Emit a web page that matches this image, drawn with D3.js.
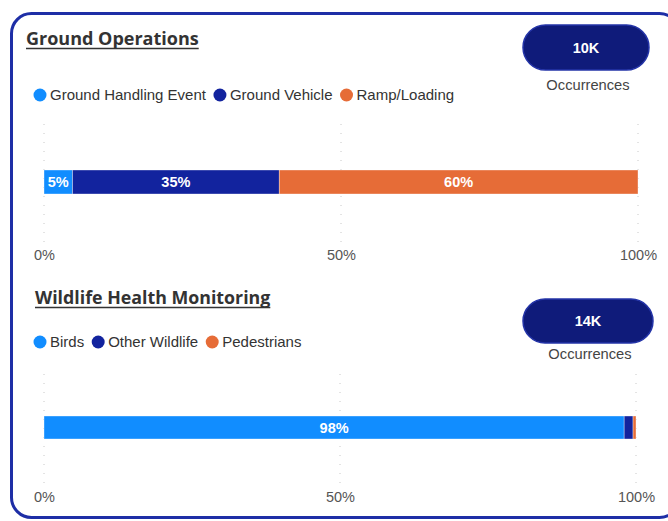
<!DOCTYPE html>
<html>
<head>
<meta charset="utf-8">
<script src="https://cdn.jsdelivr.net/npm/d3@7"></script>
<style>
  body { margin: 0; background: #fff; }
  svg { display: block; }
</style>
</head>
<body>
<svg id="chart" width="668" height="521"></svg>
<script>
// values (percent of occurrences)
const groundCategories = ["Ground Handling Event", "Ground Vehicle", "Ramp/Loading"];
const groundValues = [4.8, 34.8, 60.4];
const wildlifeCategories = ["Birds", "Other Wildlife", "Pedestrians"];
const wildlifeValues = [98.0, 1.5, 0.5];
const panelTitles = ["Ground Operations", "Wildlife Health Monitoring"];
const occurrenceTotals = ["10K", "14K"];
const tickValues = [0, 50, 100];
const colors = ["#118DFF", "#12239E", "#E66C37"];

const svg = d3.select("#chart");

// card frame
svg.append("rect")
  .attr("x", 11.5).attr("y", 13.5)
  .attr("width", 668).attr("height", 504)
  .attr("rx", 20).attr("ry", 20)
  .attr("fill", "#fff")
  .attr("stroke", "#1e2ea6")
  .attr("stroke-width", 3);

function drawPanel(opts) {
  const g = svg.append("g");

  // title
  const title = g.append("text")
    .attr("x", opts.titleX).attr("y", opts.titleY)
    .attr("font-family", "Open Sans, sans-serif")
    .attr("font-weight", 700)
    .attr("font-size", opts.titleSize)
    .attr("fill", "#333")
    .text(opts.title);
  const tw = title.node().getComputedTextLength();
  g.append("line")
    .attr("x1", opts.titleX).attr("x2", opts.titleX + tw)
    .attr("y1", opts.titleY + 3.5).attr("y2", opts.titleY + 3.5)
    .attr("stroke", "#333").attr("stroke-width", 1.4);

  // legend
  let lx = 40;
  opts.categories.forEach((c, i) => {
    g.append("circle")
      .attr("cx", lx).attr("cy", opts.legendY)
      .attr("r", 6.5)
      .attr("fill", colors[i]);
    const t = g.append("text")
      .attr("x", lx + 10).attr("y", opts.legendY + 5)
      .attr("font-family", "Liberation Sans, Arial, sans-serif")
      .attr("font-size", "15px")
      .attr("fill", "#333")
      .text(c);
    lx += 10 + t.node().getComputedTextLength() + 14;
  });

  // total pill
  const pill = g.append("g").attr("transform", `translate(${opts.pillX},${opts.pillY})`);
  pill.append("rect")
    .attr("width", opts.pillW).attr("height", opts.pillH)
    .attr("rx", opts.pillH / 2)
    .attr("fill", "#0f1b7a")
    .attr("stroke", "#2434a8")
    .attr("stroke-width", 1.5);
  pill.append("text")
    .attr("x", opts.pillW / 2).attr("y", opts.pillH / 2 + 5)
    .attr("text-anchor", "middle")
    .attr("font-family", "Liberation Sans, Arial, sans-serif")
    .attr("font-weight", 700)
    .attr("font-size", "14.5px")
    .attr("fill", "#fff")
    .text(opts.total);
  g.append("text")
    .attr("x", opts.pillX + opts.pillW / 2 + 2).attr("y", opts.pillY + opts.pillH + opts.occGap)
    .attr("text-anchor", "middle")
    .attr("font-family", "Liberation Sans, Arial, sans-serif")
    .attr("font-size", "14.7px")
    .attr("fill", "#444")
    .text("Occurrences");

  // scale + gridlines
  const x = d3.scaleLinear().domain([0, 100]).range([44, opts.xEnd]);

  g.selectAll(".grid")
    .data(tickValues)
    .join("line")
    .attr("x1", d => x(d)).attr("x2", d => x(d))
    .attr("y1", opts.gridTop).attr("y2", opts.gridBottom)
    .attr("stroke", "#c8c8c8")
    .attr("stroke-width", 1)
    .attr("stroke-dasharray", "1,8");

  // stacked bar
  let acc = 0;
  const segs = opts.values.map((v, i) => {
    const s = { x0: acc, x1: acc + v, v, i };
    acc += v;
    return s;
  });

  g.selectAll(".seg")
    .data(segs)
    .join("rect")
    .attr("x", d => x(d.x0))
    .attr("width", d => x(d.x1) - x(d.x0))
    .attr("y", opts.barY).attr("height", opts.barH)
    .attr("fill", d => colors[d.i])
    .attr("stroke", "#fff")
    .attr("stroke-opacity", 0.6)
    .attr("stroke-width", 0.6);

  g.selectAll(".lbl")
    .data(segs.filter(d => x(d.x1) - x(d.x0) > 24))
    .join("text")
    .attr("x", d => (x(d.x0) + x(d.x1)) / 2)
    .attr("y", opts.barY + opts.barH / 2 + 5)
    .attr("text-anchor", "middle")
    .attr("font-family", "Liberation Sans, Arial, sans-serif")
    .attr("font-weight", 700)
    .attr("font-size", "14.5px")
    .attr("fill", "#fff")
    .text(d => Math.round(d.v) + "%");

  // axis
  const axis = g.append("g")
    .attr("transform", `translate(0,${opts.axisY})`)
    .call(d3.axisBottom(x).tickValues(tickValues).tickFormat(d => d + "%").tickSize(0));
  axis.select(".domain").remove();
  axis.selectAll("text")
    .attr("font-family", "Liberation Sans, Arial, sans-serif")
    .attr("font-size", "14.5px")
    .attr("fill", "#555")
    .attr("dy", "0")
    .attr("y", 5);
}

drawPanel({
  title: panelTitles[0], titleX: 26, titleY: 45, titleSize: "18px",
  categories: groundCategories, values: groundValues, legendY: 95,
  total: occurrenceTotals[0], pillX: 523, pillY: 25, pillW: 126, pillH: 45, occGap: 20,
  xEnd: 638, gridTop: 124, gridBottom: 242, barY: 170, barH: 24, axisY: 255
});

drawPanel({
  title: panelTitles[1], titleX: 35, titleY: 304, titleSize: "17.8px",
  categories: wildlifeCategories, values: wildlifeValues, legendY: 342,
  total: occurrenceTotals[1], pillX: 523, pillY: 299, pillW: 130, pillH: 44, occGap: 16,
  xEnd: 636, gridTop: 374, gridBottom: 486, barY: 416, barH: 23, axisY: 497
});
</script>
</body>
</html>
